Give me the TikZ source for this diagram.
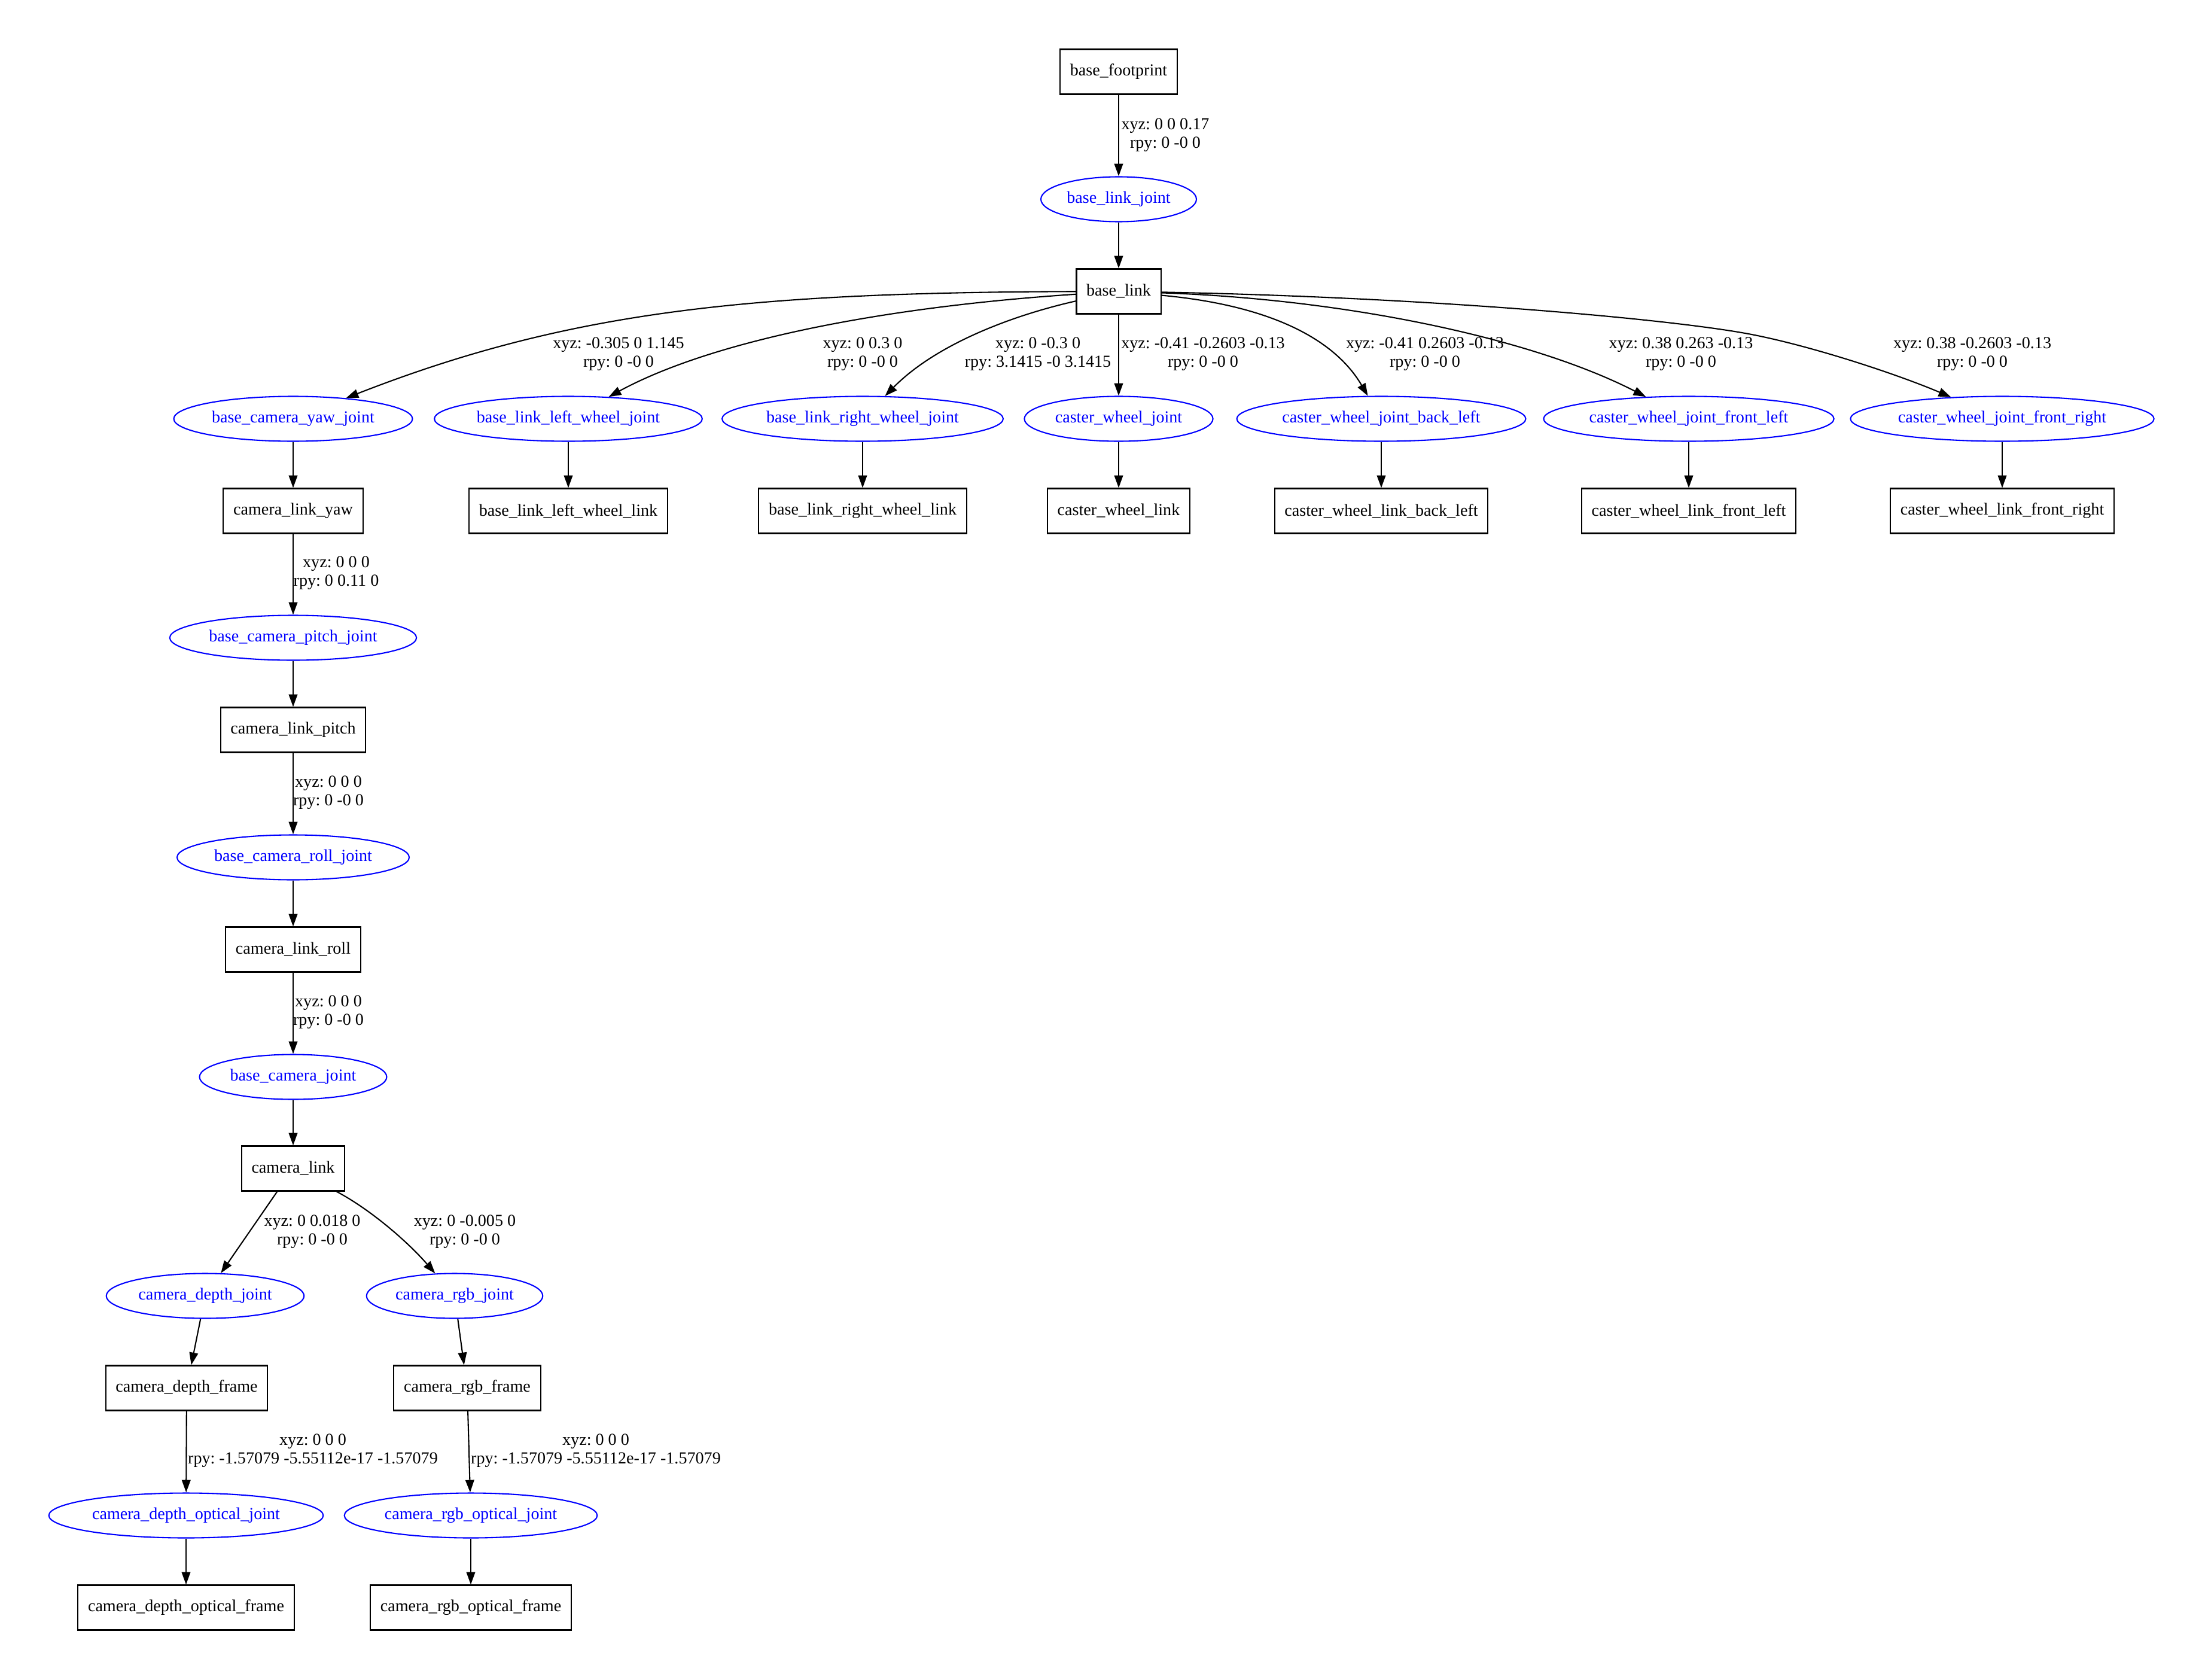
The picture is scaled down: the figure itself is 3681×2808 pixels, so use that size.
\documentclass[tikz,border=0pt]{standalone}
\usepackage{fontspec}
\setmainfont{Liberation Serif}
\usetikzlibrary{arrows.meta,shapes.geometric}
\frenchspacing

\begin{document}
\begin{tikzpicture}[x=0.48pt,y=-0.48pt,line width=1pt,>={Triangle[length=10pt,width=7pt]},
    link/.style={draw, rectangle, minimum height=36pt, inner xsep=8pt, text=black, font=\fontsize{13.5}{15}\selectfont},
    joint/.style={draw=blue, ellipse, minimum height=36pt, inner xsep=2.5pt, inner ysep=0pt, text=blue, font=\fontsize{13.5}{15}\selectfont},
    tf/.style={align=center, inner sep=0pt, font=\fontsize{13.5}{15}\selectfont}]
    \useasboundingbox (0,0) rectangle (3681,2808);

    % trunk
    \node[link] (base_footprint) at (1870, 120) {base\_footprint};
    \node[joint] (base_link_joint) at (1870, 333) {base\_link\_joint};
    \node[link] (base_link) at (1870, 487) {base\_link};

    % joints under base_link
    \node[joint] (base_camera_yaw_joint) at (490, 700) {base\_camera\_yaw\_joint};
    \node[joint] (base_link_left_wheel_joint) at (950, 700) {base\_link\_left\_wheel\_joint};
    \node[joint] (base_link_right_wheel_joint) at (1442, 700) {base\_link\_right\_wheel\_joint};
    \node[joint] (caster_wheel_joint) at (1870, 700) {caster\_wheel\_joint};
    \node[joint] (caster_wheel_joint_back_left) at (2309, 700) {caster\_wheel\_joint\_back\_left};
    \node[joint] (caster_wheel_joint_front_left) at (2823, 700) {caster\_wheel\_joint\_front\_left};
    \node[joint] (caster_wheel_joint_front_right) at (3347, 700) {caster\_wheel\_joint\_front\_right};

    % links under the joints
    \node[link] (camera_link_yaw) at (490, 854) {camera\_link\_yaw};
    \node[link] (base_link_left_wheel_link) at (950, 854) {base\_link\_left\_wheel\_link};
    \node[link] (base_link_right_wheel_link) at (1442, 854) {base\_link\_right\_wheel\_link};
    \node[link] (caster_wheel_link) at (1870, 854) {caster\_wheel\_link};
    \node[link] (caster_wheel_link_back_left) at (2309, 854) {caster\_wheel\_link\_back\_left};
    \node[link] (caster_wheel_link_front_left) at (2823, 854) {caster\_wheel\_link\_front\_left};
    \node[link] (caster_wheel_link_front_right) at (3347, 854) {caster\_wheel\_link\_front\_right};

    % camera chain
    \node[joint] (base_camera_pitch_joint) at (490, 1066) {base\_camera\_pitch\_joint};
    \node[link] (camera_link_pitch) at (490, 1220) {camera\_link\_pitch};
    \node[joint] (base_camera_roll_joint) at (490, 1433) {base\_camera\_roll\_joint};
    \node[link] (camera_link_roll) at (490, 1587) {camera\_link\_roll};
    \node[joint] (base_camera_joint) at (490, 1800) {base\_camera\_joint};
    \node[link] (camera_link) at (490, 1953) {camera\_link};

    \node[joint] (camera_depth_joint) at (343, 2166) {camera\_depth\_joint};
    \node[joint] (camera_rgb_joint) at (760, 2166) {camera\_rgb\_joint};
    \node[link] (camera_depth_frame) at (312, 2320) {camera\_depth\_frame};
    \node[link] (camera_rgb_frame) at (781, 2320) {camera\_rgb\_frame};
    \node[joint] (camera_depth_optical_joint) at (311, 2533) {camera\_depth\_optical\_joint};
    \node[joint] (camera_rgb_optical_joint) at (787, 2533) {camera\_rgb\_optical\_joint};
    \node[link] (camera_depth_optical_frame) at (311, 2687) {camera\_depth\_optical\_frame};
    \node[link] (camera_rgb_optical_frame) at (787, 2687) {camera\_rgb\_optical\_frame};

    % straight edges
    \path[->]
        (base_footprint) edge (base_link_joint)
        (base_link_joint) edge (base_link)
        (base_link) edge (caster_wheel_joint)

        (base_camera_yaw_joint) edge (camera_link_yaw)
        (base_link_left_wheel_joint) edge (base_link_left_wheel_link)
        (base_link_right_wheel_joint) edge (base_link_right_wheel_link)
        (caster_wheel_joint) edge (caster_wheel_link)
        (caster_wheel_joint_back_left) edge (caster_wheel_link_back_left)
        (caster_wheel_joint_front_left) edge (caster_wheel_link_front_left)
        (caster_wheel_joint_front_right) edge (caster_wheel_link_front_right)

        (camera_link_yaw) edge (base_camera_pitch_joint)
        (base_camera_pitch_joint) edge (camera_link_pitch)
        (camera_link_pitch) edge (base_camera_roll_joint)
        (base_camera_roll_joint) edge (camera_link_roll)
        (camera_link_roll) edge (base_camera_joint)
        (base_camera_joint) edge (camera_link)

        (camera_link) edge (camera_depth_joint)
        (camera_depth_joint) edge (camera_depth_frame)
        (camera_rgb_joint) edge (camera_rgb_frame)
        (camera_depth_frame) edge (camera_depth_optical_joint)
        (camera_rgb_frame) edge (camera_rgb_optical_joint)
        (camera_depth_optical_joint) edge (camera_depth_optical_frame)
        (camera_rgb_optical_joint) edge (camera_rgb_optical_frame);

    % curved edges
    \draw[->] (base_link) .. controls (1250, 489) and (950, 520) .. (base_camera_yaw_joint);
    \draw[->] (base_link) .. controls (1450, 515) and (1180, 575) .. (base_link_left_wheel_joint);
    \draw[->] (base_link) .. controls (1680, 530) and (1560, 580) .. (base_link_right_wheel_joint);
    \draw[->] (base_link) .. controls (2120, 510) and (2230, 565) .. (caster_wheel_joint_back_left);
    \draw[->] (base_link) .. controls (2250, 500) and (2560, 565) .. (caster_wheel_joint_front_left);
    \draw[->] (base_link) .. controls (2400, 497) and (2810, 535) .. (2933, 560)
        .. controls (3033, 580) and (3170, 625) .. (caster_wheel_joint_front_right);
    \draw[->] (camera_link) .. controls (620, 2022) and (682, 2076) .. (camera_rgb_joint);

    % transforms
    \node[tf] (tf_base_link) at (1948, 226) {xyz: 0 0 0.17\\rpy: 0 -0 0};
    \node[tf] (tf_yaw) at (1034, 592) {xyz: -0.305 0 1.145\\rpy: 0 -0 0};
    \node[tf] (tf_left_wheel) at (1442, 592) {xyz: 0 0.3 0\\rpy: 0 -0 0};
    \node[tf] (tf_right_wheel) at (1735, 592) {xyz: 0 -0.3 0\\rpy: 3.1415 -0 3.1415};
    \node[tf] (tf_caster) at (2011, 592) {xyz: -0.41 -0.2603 -0.13\\rpy: 0 -0 0};
    \node[tf] (tf_back_left) at (2382, 592) {xyz: -0.41 0.2603 -0.13\\rpy: 0 -0 0};
    \node[tf] (tf_front_left) at (2810, 592) {xyz: 0.38 0.263 -0.13\\rpy: 0 -0 0};
    \node[tf] (tf_front_right) at (3297, 592) {xyz: 0.38 -0.2603 -0.13\\rpy: 0 -0 0};

    \node[tf] (tf_pitch) at (562, 958) {xyz: 0 0 0\\rpy: 0 0.11 0};
    \node[tf] (tf_roll) at (549, 1325) {xyz: 0 0 0\\rpy: 0 -0 0};
    \node[tf] (tf_camera) at (549, 1692) {xyz: 0 0 0\\rpy: 0 -0 0};
    \node[tf] (tf_depth) at (522, 2059) {xyz: 0 0.018 0\\rpy: 0 -0 0};
    \node[tf] (tf_rgb) at (777, 2059) {xyz: 0 -0.005 0\\rpy: 0 -0 0};
    \node[tf] (tf_depth_optical) at (523, 2425) {xyz: 0 0 0\\rpy: -1.57079 -5.55112e-17 -1.57079};
    \node[tf] (tf_rgb_optical) at (996, 2425) {xyz: 0 0 0\\rpy: -1.57079 -5.55112e-17 -1.57079};
\end{tikzpicture}
\end{document}
